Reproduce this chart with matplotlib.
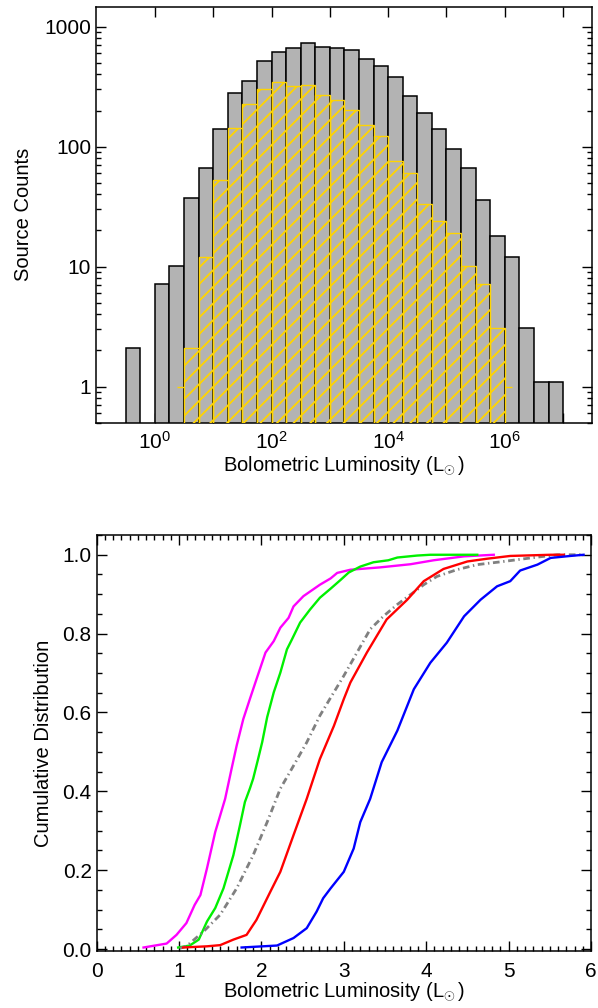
import numpy as np
import matplotlib
matplotlib.use('Agg')
import matplotlib.pyplot as plt
from matplotlib.ticker import FixedLocator, NullLocator, MultipleLocator, LogLocator, FixedFormatter

plt.rcParams['font.family'] = ['Liberation Sans', 'DejaVu Sans']
plt.rcParams['mathtext.fontset'] = 'custom'
plt.rcParams['mathtext.rm'] = 'Liberation Sans'
plt.rcParams['mathtext.it'] = 'Liberation Sans:italic'
plt.rcParams['hatch.linewidth'] = 1.3

# гистограмма: края бинов в log10(L), шаг 0.25
bin_lo = -0.5
bin_step = 0.25
all_counts = [2, 0, 7, 10, 37, 66, 139, 280, 355, 514, 611, 668, 731, 681, 666,
              636, 538, 467, 378, 263, 192, 139, 96, 66, 36, 18, 12, 3, 1, 1]
# выборка (жёлтая штриховка), начинается с бина 0.25
sub_lo = 0.25
sub_counts = [1, 2, 12, 53, 144, 225, 300, 344, 320, 329, 271, 245, 202, 151,
              123, 76, 60, 33, 24, 19, 10, 7, 3, 1]

# кумулятивные распределения, x = log10(L)
mag_x = [0.57, 0.85, 0.97, 1.09, 1.19, 1.26, 1.34, 1.44, 1.56, 1.64, 1.70, 1.78, 1.86, 1.94,
         2.05, 2.15, 2.23, 2.33, 2.39, 2.51, 2.71, 2.84, 2.92, 3.08, 3.44, 3.81, 4.09, 4.46, 4.82]
mag_y = [0.004, 0.014, 0.036, 0.066, 0.112, 0.137, 0.205, 0.297, 0.381, 0.459, 0.516, 0.583, 0.634, 0.684,
         0.752, 0.781, 0.815, 0.840, 0.869, 0.895, 0.924, 0.940, 0.954, 0.962, 0.968, 0.976, 0.986, 0.996, 1.0]
grn_x = [0.99, 1.13, 1.24, 1.34, 1.44, 1.54, 1.66, 1.74, 1.80, 1.86, 1.90, 1.96, 2.01, 2.07, 2.15, 2.23,
         2.31, 2.37, 2.47, 2.59, 2.71, 2.84, 2.96, 3.06, 3.20, 3.36, 3.54, 3.65, 3.89, 4.05, 4.62]
grn_y = [0.004, 0.009, 0.024, 0.070, 0.104, 0.154, 0.238, 0.314, 0.373, 0.407, 0.432, 0.482, 0.525, 0.588,
         0.651, 0.701, 0.760, 0.785, 0.828, 0.861, 0.891, 0.914, 0.936, 0.955, 0.970, 0.981, 0.986, 0.993,
         0.998, 1.0, 1.0]
gry_x = [1.01, 1.09, 1.30, 1.50, 1.70, 1.90, 2.07, 2.23, 2.39, 2.55, 2.71, 2.83, 3.00, 3.16, 3.32, 3.48,
         3.65, 3.81, 3.97, 4.13, 4.37, 4.62, 4.94, 5.27, 5.59, 5.91]
gry_y = [0.002, 0.007, 0.045, 0.087, 0.154, 0.238, 0.322, 0.407, 0.465, 0.524, 0.592, 0.634, 0.693, 0.752,
         0.811, 0.844, 0.874, 0.899, 0.924, 0.945, 0.962, 0.975, 0.983, 0.992, 1.0, 1.0]
red_x = [1.05, 1.34, 1.50, 1.66, 1.82, 1.94, 2.11, 2.23, 2.39, 2.55, 2.71, 2.88, 3.00, 3.08, 3.28, 3.52,
         3.77, 3.97, 4.21, 4.50, 4.74, 5.02, 5.51, 5.67]
red_y = [0.004, 0.007, 0.010, 0.024, 0.036, 0.074, 0.146, 0.196, 0.289, 0.381, 0.482, 0.566, 0.634, 0.676,
         0.752, 0.836, 0.886, 0.933, 0.964, 0.983, 0.990, 0.997, 1.0, 1.0]
blu_x = [1.76, 2.19, 2.39, 2.55, 2.67, 2.75, 2.84, 3.00, 3.12, 3.20, 3.32, 3.46, 3.65, 3.85, 4.05, 4.25,
         4.46, 4.66, 4.86, 5.02, 5.14, 5.35, 5.51, 5.75, 5.91]
blu_y = [0.004, 0.009, 0.028, 0.053, 0.095, 0.129, 0.154, 0.196, 0.255, 0.322, 0.381, 0.474, 0.554, 0.659,
         0.726, 0.777, 0.844, 0.886, 0.920, 0.933, 0.960, 0.975, 0.992, 0.997, 1.0]

xlab = r'Bolometric Luminosity (L$_{\!\odot}$)'
yellow = '#ffd400'
fs_lab = 14.5
fs_tick = 15

fig = plt.figure(figsize=(5.98, 10.08), dpi=100)
ax1 = fig.add_axes([0.1605, 0.5807, 0.829, 0.4124])
ax2 = fig.add_axes([0.1615, 0.0565, 0.8268, 0.4127])

# --- верхняя панель: гистограмма ---
e_all = bin_lo + bin_step * np.arange(len(all_counts))
left = 10 ** e_all
width = 10 ** (e_all + bin_step) - left
ax1.bar(left, all_counts, width=width, align='edge', bottom=0.1,
        color='#b3b3b3', edgecolor='black', linewidth=1.1, zorder=2)

e_sub = sub_lo + bin_step * np.arange(len(sub_counts))
sl = 10 ** e_sub
sw = 10 ** (e_sub + bin_step) - sl
plt.rcParams['hatch.color'] = yellow
ax1.bar(sl[1:-1], sub_counts[1:-1], width=sw[1:-1], align='edge', bottom=0.1,
        facecolor='none', edgecolor=yellow, hatch='//', linewidth=1.0, zorder=3)
# крайние бины — полушаг, как у psym=10
ax1.hlines(sub_counts[0], 10 ** (e_sub[0] + bin_step / 2), 10 ** (e_sub[0] + bin_step),
           color=yellow, lw=1.0, zorder=3)
ax1.hlines(sub_counts[-1], 10 ** e_sub[-1], 10 ** (e_sub[-1] + bin_step / 2),
           color=yellow, lw=1.0, zorder=3)

ax1.set_xscale('log')
ax1.set_yscale('log')
ax1.set_xlim(10 ** -1.01, 10 ** 7.49)
ax1.set_ylim(0.5, 1460)
ax1.xaxis.set_major_locator(FixedLocator([10.0 ** k for k in range(0, 8)]))
ax1.xaxis.set_major_formatter(FixedFormatter([r'$10^{%d}$' % k if k % 2 == 0 else '' for k in range(0, 8)]))
ax1.xaxis.set_minor_locator(NullLocator())
ax1.yaxis.set_major_locator(FixedLocator([1, 10, 100, 1000]))
ax1.yaxis.set_major_formatter(FixedFormatter(['1', '10', '100', '1000']))
ax1.yaxis.set_minor_locator(LogLocator(base=10, subs=np.arange(2, 10)))
ax1.tick_params(axis='x', which='major', pad=6)
ax1.set_xlabel(xlab, fontsize=fs_lab, labelpad=1)
ax1.set_ylabel('Source Counts', fontsize=fs_lab, labelpad=8)

# --- нижняя панель: кумулятивные распределения ---
ax2.plot(mag_x, mag_y, color='#ff00ff', lw=1.7, zorder=3)
ax2.plot(grn_x, grn_y, color='#00f000', lw=1.7, zorder=3)
ax2.plot(gry_x, gry_y, color='#808080', lw=2.0, ls=(0, (2.4, 1.3, 0.5, 1.3)), zorder=3)
ax2.plot(red_x, red_y, color='#ff0000', lw=1.7, zorder=3)
ax2.plot(blu_x, blu_y, color='#0000ff', lw=1.7, zorder=3)
ax2.set_xlim(0, 6)
ax2.set_ylim(-0.005, 1.05)
ax2.xaxis.set_major_locator(MultipleLocator(1))
ax2.xaxis.set_minor_locator(MultipleLocator(0.1))
ax2.yaxis.set_major_locator(MultipleLocator(0.2))
ax2.yaxis.set_minor_locator(MultipleLocator(0.05))
ax2.yaxis.set_major_formatter(matplotlib.ticker.FormatStrFormatter('%.1f'))
ax2.tick_params(axis='x', which='major', pad=8)
ax2.set_xlabel(xlab, fontsize=fs_lab, labelpad=0)
ax2.set_ylabel('Cumulative Distribution', fontsize=fs_lab, labelpad=7)

for ax in (ax1, ax2):
    ax.tick_params(which='both', direction='in', top=True, right=True, labelsize=fs_tick, width=1.0)
    ax.tick_params(which='major', length=7)
    ax.tick_params(which='minor', length=3.5)
    for s in ax.spines.values():
        s.set_linewidth(1.1)

fig.savefig('out.png', dpi=100)
